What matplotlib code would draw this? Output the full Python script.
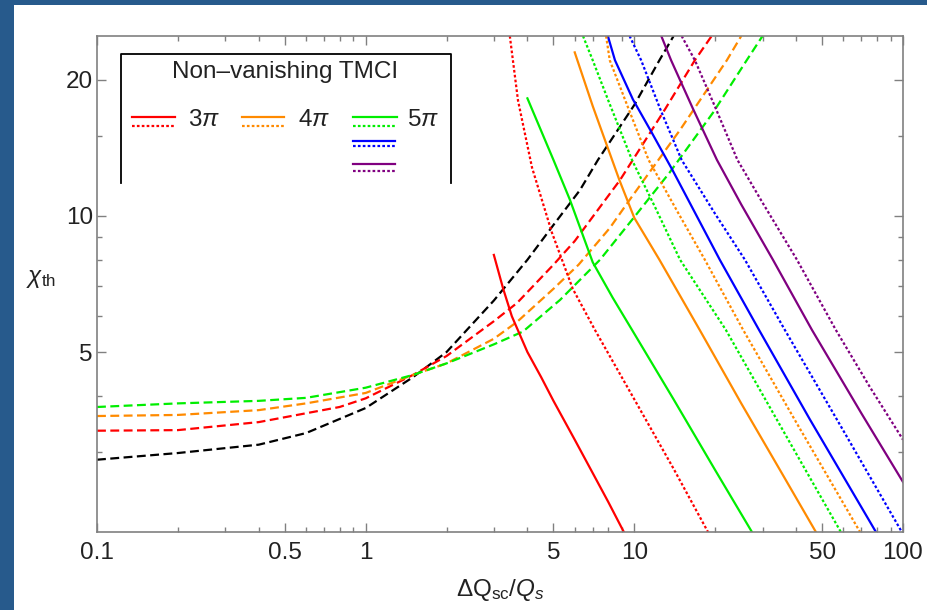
import matplotlib
matplotlib.use("Agg")
import matplotlib.pyplot as plt
from matplotlib.patches import Rectangle
from matplotlib.ticker import FixedLocator, FixedFormatter, NullFormatter

plt.rcParams['font.family'] = ['Liberation Sans', 'DejaVu Sans']
plt.rcParams['mathtext.fontset'] = 'custom'
plt.rcParams['mathtext.rm'] = 'Liberation Sans'
plt.rcParams['mathtext.it'] = 'Liberation Sans:italic'
plt.rcParams['mathtext.bf'] = 'Liberation Sans:bold'

### DATA ###

# threshold curves (dashed), one per mode
black_dash_x = [0.1, 0.2, 0.4, 0.6, 1.0, 1.5, 2.0, 3.0, 4.0, 5.0, 6.27, 7.32, 10.0, 12.4, 14.0]
black_dash_y = [2.89, 2.99, 3.12, 3.31, 3.76, 4.4, 5.0, 6.5, 8.0, 9.55, 11.4, 13.3, 17.6, 22.1, 25.0]

red_dash_x = [0.1, 0.2, 0.4, 0.8, 1.0, 1.5, 2.0, 3.0, 3.66, 5.0, 6.0, 8.84, 13.0, 16.8, 19.4]
red_dash_y = [3.35, 3.36, 3.5, 3.78, 3.95, 4.45, 4.9, 5.85, 6.42, 7.8, 8.8, 12.0, 17.2, 22.1, 25.0]

orange_dash_x = [0.1, 0.2, 0.4, 0.6, 1.0, 1.5, 2.0, 3.0, 3.66, 5.0, 6.2, 8.1, 9.6, 14.8, 22.1, 25.0]
orange_dash_y = [3.61, 3.63, 3.72, 3.85, 4.06, 4.45, 4.72, 5.35, 5.83, 6.9, 7.8, 9.4, 10.85, 15.5, 22.1, 25.0]

green_dash_x = [0.1, 0.2, 0.4, 0.6, 1.0, 1.5, 2.0, 3.0, 3.85, 5.29, 7.45, 9.8, 13.5, 19.6, 26.2, 30.0]
green_dash_y = [3.78, 3.85, 3.9, 3.96, 4.17, 4.45, 4.72, 5.2, 5.55, 6.52, 8.0, 9.8, 12.45, 16.9, 22.1, 25.0]

# non-vanishing TMCI curves (solid / dotted)
red_solid_x = [3.0, 3.25, 3.5, 4.0, 4.5, 5.0, 6.0, 7.0, 8.0, 9.14]
red_solid_y = [8.2, 6.9, 6.0, 5.0, 4.4, 3.9, 3.2, 2.7, 2.33, 2.0]
red_dot_x = [3.44, 3.69, 4.16, 4.93, 5.9, 7.13, 10.0, 14.0, 18.8]
red_dot_y = [25.0, 18.0, 12.8, 9.2, 6.9, 5.6, 3.93, 2.76, 2.0]

orange_solid_x = [6.0, 7.0, 7.78, 8.8, 10.0, 12.4, 17.5, 25.0, 35.0, 47.4]
orange_solid_y = [23.0, 17.5, 14.7, 12.0, 9.9, 8.0, 5.6, 3.85, 2.73, 2.0]
orange_dot_x = [7.85, 8.1, 9.5, 11.3, 14.5, 18.3, 25.4, 40.0, 69.2]
orange_dot_y = [25.0, 22.1, 17.3, 13.3, 10.2, 8.0, 5.6, 3.5, 2.0]

green_solid_x = [4.0, 5.0, 5.76, 7.0, 8.3, 9.8, 14.0, 20.0, 27.4]
green_solid_y = [18.2, 13.3, 10.85, 7.9, 6.6, 5.6, 3.93, 2.74, 2.0]
green_dot_x = [6.44, 7.0, 8.0, 9.8, 12.0, 14.8, 21.9, 35.0, 58.7]
green_dot_y = [25.0, 22.1, 18.0, 13.3, 10.4, 8.0, 5.6, 3.43, 2.0]

blue_solid_x = [7.97, 8.47, 9.88, 11.6, 13.9, 20.8, 29.1, 45.0, 79.3]
blue_solid_y = [25.0, 22.1, 18.1, 15.3, 12.6, 8.0, 5.6, 3.55, 2.0]
blue_dot_x = [9.6, 10.6, 12.5, 15.0, 20.0, 25.8, 36.3, 60.0, 99.0]
blue_dot_y = [25.0, 22.1, 17.2, 13.3, 10.1, 8.0, 5.6, 3.35, 2.0]

purple_solid_x = [12.6, 13.7, 16.5, 20.3, 25.0, 32.8, 45.8, 70.0, 100.0]
purple_solid_y = [25.0, 22.1, 17.3, 13.3, 10.6, 8.0, 5.6, 3.66, 2.58]
purple_dot_x = [15.0, 16.8, 20.0, 24.2, 30.0, 40.3, 56.2, 75.0, 100.0]
purple_dot_y = [25.0, 22.1, 17.4, 13.3, 10.7, 8.0, 5.6, 4.2, 3.2]

x_major = [0.1, 0.5, 1, 5, 10, 50, 100]
x_major_labels = ['0.1', '0.5', '1', '5', '10', '50', '100']
x_minor = [0.2, 0.3, 0.4, 0.6, 0.7, 0.8, 0.9, 2, 3, 4, 6, 7, 8, 9,
           20, 30, 40, 60, 70, 80, 90]
y_major = [5, 10, 20]
y_major_labels = ['5', '10', '20']
y_minor = [3, 4, 6, 7, 8, 9, 15]

legend_labels = [r'3$\pi$', r'4$\pi$', r'5$\pi$']

### STYLE ###

RED = '#ff0000'
ORANGE = '#ff8a00'
GREEN = '#00ee00'
BLUE = '#0000ff'
PURPLE = '#800080'
DASH = (0, (4, 2))
DOT = (0, (1.2, 1.0))
LW = 1.6
FS = 17.5

### PLOT ###

fig = plt.figure(figsize=(9.28, 6.10), dpi=100)
fig.patch.set_facecolor('#275a8c')
fig.add_artist(Rectangle((14 / 928, 0), 1 - 14 / 928, 605 / 610,
                         transform=fig.transFigure, facecolor='white',
                         edgecolor='none', zorder=-10))

ax = fig.add_axes([97 / 928, 78 / 610, 806 / 928, 496 / 610])
ax.set_xscale('log')
ax.set_yscale('log')

ax.plot(black_dash_x, black_dash_y, color='black', ls=DASH, lw=LW)
ax.plot(red_dash_x, red_dash_y, color=RED, ls=DASH, lw=LW)
ax.plot(orange_dash_x, orange_dash_y, color=ORANGE, ls=DASH, lw=LW)
ax.plot(green_dash_x, green_dash_y, color=GREEN, ls=DASH, lw=LW)

for xs, ys, c in [(red_solid_x, red_solid_y, RED),
                  (orange_solid_x, orange_solid_y, ORANGE),
                  (green_solid_x, green_solid_y, GREEN),
                  (blue_solid_x, blue_solid_y, BLUE),
                  (purple_solid_x, purple_solid_y, PURPLE)]:
    ax.plot(xs, ys, color=c, lw=LW)

for xs, ys, c in [(red_dot_x, red_dot_y, RED),
                  (orange_dot_x, orange_dot_y, ORANGE),
                  (green_dot_x, green_dot_y, GREEN),
                  (blue_dot_x, blue_dot_y, BLUE),
                  (purple_dot_x, purple_dot_y, PURPLE)]:
    ax.plot(xs, ys, color=c, ls=DOT, lw=LW)

ax.set_xlim(0.1, 100)
ax.set_ylim(2, 25)

ax.xaxis.set_major_locator(FixedLocator(x_major))
ax.xaxis.set_major_formatter(FixedFormatter(x_major_labels))
ax.xaxis.set_minor_locator(FixedLocator(x_minor))
ax.xaxis.set_minor_formatter(NullFormatter())
ax.yaxis.set_major_locator(FixedLocator(y_major))
ax.yaxis.set_major_formatter(FixedFormatter(y_major_labels))
ax.yaxis.set_minor_locator(FixedLocator(y_minor))
ax.yaxis.set_minor_formatter(NullFormatter())

ax.tick_params(which='both', direction='in', top=True, right=True,
               color='#808080', width=1.0, labelsize=FS, labelcolor='#222222')
ax.tick_params(which='major', length=6.5)
ax.tick_params(which='minor', length=3.5)
ax.tick_params(axis='x', which='major', pad=7)
ax.tick_params(axis='y', which='major', pad=3)
for sp in ax.spines.values():
    sp.set_color('#808080')
    sp.set_linewidth(1.2)

ax.set_xlabel(r'$\Delta \mathrm{Q}_{\mathrm{sc}}/Q_s$', fontsize=FS, color='#222222')
ax.xaxis.set_label_coords(0.5, -0.09)
ax.set_ylabel(r'$\chi_{\mathrm{th}}$', fontsize=FS, color='#222222', rotation=0)
ax.yaxis.set_label_coords(-0.069, 0.488)

# legend box (open at the bottom)
def fx(px):
    return (px - 97) / 806

def fy(py):
    return (532 - py) / 496

box = dict(color='black', lw=1.3, transform=ax.transAxes, clip_on=False)
ax.plot([fx(121), fx(121), fx(451), fx(451)], [fy(183), fy(54), fy(54), fy(183)], **box)
ax.text(fx(285), fy(72), 'Non\u2013vanishing TMCI', transform=ax.transAxes,
        ha='center', va='center', fontsize=FS, color='#222222')

entries = [
    (RED, 132, 175, 117, 126, legend_labels[0], 188),
    (ORANGE, 242, 284, 117, 126, legend_labels[1], 298),
    (GREEN, 353, 397, 117, 126, legend_labels[2], 407),
    (BLUE, 353, 395, 141, 146, None, None),
    (PURPLE, 353, 395, 164, 171, None, None),
]
for c, x0, x1, ys, yd, lab, xl in entries:
    ax.plot([fx(x0), fx(x1)], [fy(ys), fy(ys)], color=c, lw=LW,
            transform=ax.transAxes, clip_on=False)
    ax.plot([fx(x0), fx(x1)], [fy(yd), fy(yd)], color=c, lw=LW, ls=DOT,
            transform=ax.transAxes, clip_on=False)
    if lab:
        ax.text(fx(xl), fy(120), lab, transform=ax.transAxes, ha='left',
                va='center', fontsize=FS, color='#222222')

fig.savefig('out.png', dpi=100, facecolor=fig.get_facecolor())
